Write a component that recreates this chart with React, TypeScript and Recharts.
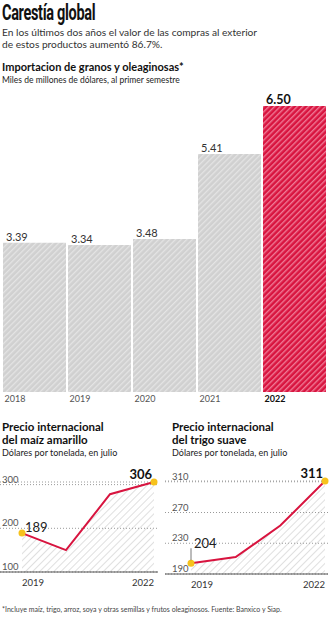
import { BarChart, Bar, XAxis, YAxis, Cell, LabelList, ComposedChart, Area, Line, CartesianGrid } from "recharts";

const barYears = ["2018", "2019", "2020", "2021", "2022"];
const importValues = [3.39, 3.34, 3.48, 5.41, 6.5];

const lineYears = ["2019", "2020", "2021", "2022"];
const maizPrices = [189, 150, 278, 306];
const trigoPrices = [204, 212, 253, 311];
const maizTicks = [100, 200, 300];
const trigoTicks = [190, 230, 270, 310];

const RED = "#d8143f";
const FONT = "Lato, 'Open Sans', sans-serif";

const barData = barYears.map((year, i) => ({ year, value: importValues[i] }));
const maizData = lineYears.map((year, i) => ({ year, value: maizPrices[i] }));
const trigoData = lineYears.map((year, i) => ({ year, value: trigoPrices[i] }));

function BarTick(props: any) {
  const { x, y, payload, index } = props;
  const last = index === barYears.length - 1;
  return (
    <text x={x - 30} y={y} dy="0.71em" fontSize={9} fontFamily={FONT} fill={last ? "#111" : "#555"} fontWeight={last ? 700 : 400}>
      {payload.value}
    </text>
  );
}

function BarValue(props: any) {
  const { x, y, value, index } = props;
  const last = index === importValues.length - 1;
  return (
    <text x={x + 3} y={y - 2} fontSize={last ? 12.5 : 11} fontFamily={FONT} fontWeight={last ? 700 : 400} fill={last ? "#111" : "#333"}>
      {Number(value).toFixed(2)}
    </text>
  );
}

function PriceChart({ data, ticks, padLeft, padRight, tickX, hatchId, leader, height, right }: any) {
  const n = data.length;
  const YTick = (p: any) => (
    <text x={tickX} y={p.y - 2} fontSize={9.5} fontFamily={FONT} fill="#555">
      {p.payload.value}
    </text>
  );
  const XTick = (p: any) => {
    if (p.index !== 0 && p.index !== n - 1) return <g />;
    return (
      <text x={p.x} y={p.y} dy="0.71em" fontSize={9.5} fontFamily={FONT} fill="#333" textAnchor={p.index === 0 ? "start" : "end"}>
        {p.payload.value}
      </text>
    );
  };
  const Dot = (p: any) => {
    if (p.index !== 0 && p.index !== n - 1) return <g key={p.index} />;
    return <circle key={p.index} cx={p.cx} cy={p.cy} r={3.5} fill="#f6c21c" />;
  };
  const ValueLabel = (p: any) => {
    const { x, y, value, index } = p;
    if (index === 0) {
      return (
        <g>
          {leader && <line x1={x} x2={x} y1={y - 3} y2={y - 15} stroke="#555" strokeWidth={0.8} />}
          <text x={x + 3} y={leader ? y - 15 : y - 1} fontSize={13} fontFamily={FONT} fill="#222">
            {value}
          </text>
        </g>
      );
    }
    if (index === n - 1) {
      return (
        <text x={x - 2} y={y - 3} fontSize={13} fontFamily={FONT} fontWeight={700} fill="#111" textAnchor="end">
          {value}
        </text>
      );
    }
    return <g />;
  };
  return (
    <ComposedChart width={165} height={height} data={data} margin={{ top: 20, right, left: -20, bottom: 0 }}>
      <defs>
        <pattern id={hatchId} width={5} height={5} patternUnits="userSpaceOnUse" patternTransform="rotate(45)">
          <rect width={0.8} height={5} fill="#bdbdbd" />
        </pattern>
      </defs>
      <CartesianGrid vertical={false} stroke="#999" strokeDasharray="1 2" />
      <XAxis dataKey="year" padding={{ left: padLeft, right: padRight }} axisLine={{ stroke: "#555" }} tickLine={false} tickSize={5} tickMargin={2} height={20} tick={XTick} interval={0} />
      <YAxis domain={[ticks[0], ticks[ticks.length - 1]]} ticks={ticks} width={20} axisLine={false} tickLine={false} tick={YTick} interval={0} />
      <Area dataKey="value" fill={`url(#${hatchId})`} stroke="none" isAnimationActive={false} />
      <Line dataKey="value" stroke={RED} strokeWidth={2} dot={Dot} activeDot={false} isAnimationActive={false}>
        <LabelList dataKey="value" content={ValueLabel} />
      </Line>
    </ComposedChart>
  );
}

export default function App() {
  const abs = (left: number, top: number): any => ({ position: "absolute", left, top, margin: 0 });
  return (
    <div style={{ position: "relative", width: 330, height: 620, background: "#fff", fontFamily: FONT, color: "#222", overflow: "hidden" }}>
      <style>{"body{margin:0}"}</style>
      <div style={{ ...abs(2, 0), fontFamily: "Roboto, sans-serif", fontWeight: 700, fontSize: 22, lineHeight: "25px", letterSpacing: -0.5, transform: "scaleX(0.66)", transformOrigin: "left", whiteSpace: "nowrap", color: "#111" }}>
        Carestía global
      </div>
      <div style={{ ...abs(2, 26), fontSize: 10.2, lineHeight: "12px", color: "#333", width: 300 }}>
        En los últimos dos años el valor de las compras al exterior
        <br />
        de estos productos aumentó 86.7%.
      </div>
      <div style={{ ...abs(2, 60), fontSize: 11, fontWeight: 700, color: "#111", whiteSpace: "nowrap" }}>Importacion de granos y oleaginosas*</div>
      <div style={{ ...abs(2, 75), fontSize: 8.5, color: "#222", whiteSpace: "nowrap" }}>Miles de millones de dólares, al primer semestre</div>

      <div style={abs(0, 86)}>
        <BarChart width={330} height={326} data={barData} margin={{ top: 20, right: 3, left: 2, bottom: 0 }} barCategoryGap={1}>
          <defs>
            <pattern id="hatchGrey" width={4} height={4} patternUnits="userSpaceOnUse" patternTransform="rotate(45)">
              <rect width={4} height={4} fill="#d0d0d0" />
              <rect width={1.3} height={4} fill="#e4e4e4" />
            </pattern>
            <pattern id="hatchRed" width={4} height={4} patternUnits="userSpaceOnUse" patternTransform="rotate(45)">
              <rect width={4} height={4} fill={RED} />
              <rect width={1.4} height={4} fill="#f07a96" />
            </pattern>
          </defs>
          <XAxis dataKey="year" axisLine={false} tickLine={false} tickSize={4} tickMargin={0} height={20} tick={BarTick} interval={0} />
          <YAxis hide domain={[0, 6.5]} />
          <Bar dataKey="value" isAnimationActive={false}>
            {barData.map((d, i) => (
              <Cell key={d.year} fill={i === barData.length - 1 ? "url(#hatchRed)" : "url(#hatchGrey)"} />
            ))}
            <LabelList dataKey="value" content={BarValue} />
          </Bar>
        </BarChart>
      </div>

      <div style={{ ...abs(2, 420), fontSize: 11.5, fontWeight: 700, lineHeight: "13px", color: "#111" }}>
        Precio internacional
        <br />
        del maíz amarillo
      </div>
      <div style={{ ...abs(2, 447), fontSize: 9, color: "#222", whiteSpace: "nowrap" }}>Dólares por tonelada, en julio</div>
      <div style={abs(0, 462)}>
        <PriceChart data={maizData} ticks={maizTicks} padLeft={22} padRight={4} tickX={2} hatchId="hatchMaiz" leader={false} height={130} right={7} />
      </div>

      <div style={{ ...abs(172, 420), fontSize: 11.5, fontWeight: 700, lineHeight: "13px", color: "#111" }}>
        Precio internacional
        <br />
        del trigo suave
      </div>
      <div style={{ ...abs(172, 447), fontSize: 9, color: "#222", whiteSpace: "nowrap" }}>Dólares por tonelada, en julio</div>
      <div style={abs(165, 461)}>
        <PriceChart data={trigoData} ticks={trigoTicks} padLeft={26} padRight={3} tickX={7} hatchId="hatchTrigo" leader={true} height={133} right={2} />
      </div>

      <div style={{ ...abs(2, 605), fontSize: 7, color: "#444", whiteSpace: "nowrap" }}>
        *Incluye maíz, trigo, arroz, soya y otras semillas y frutos oleaginosos. Fuente: Banxico y Siap.
      </div>
    </div>
  );
}
